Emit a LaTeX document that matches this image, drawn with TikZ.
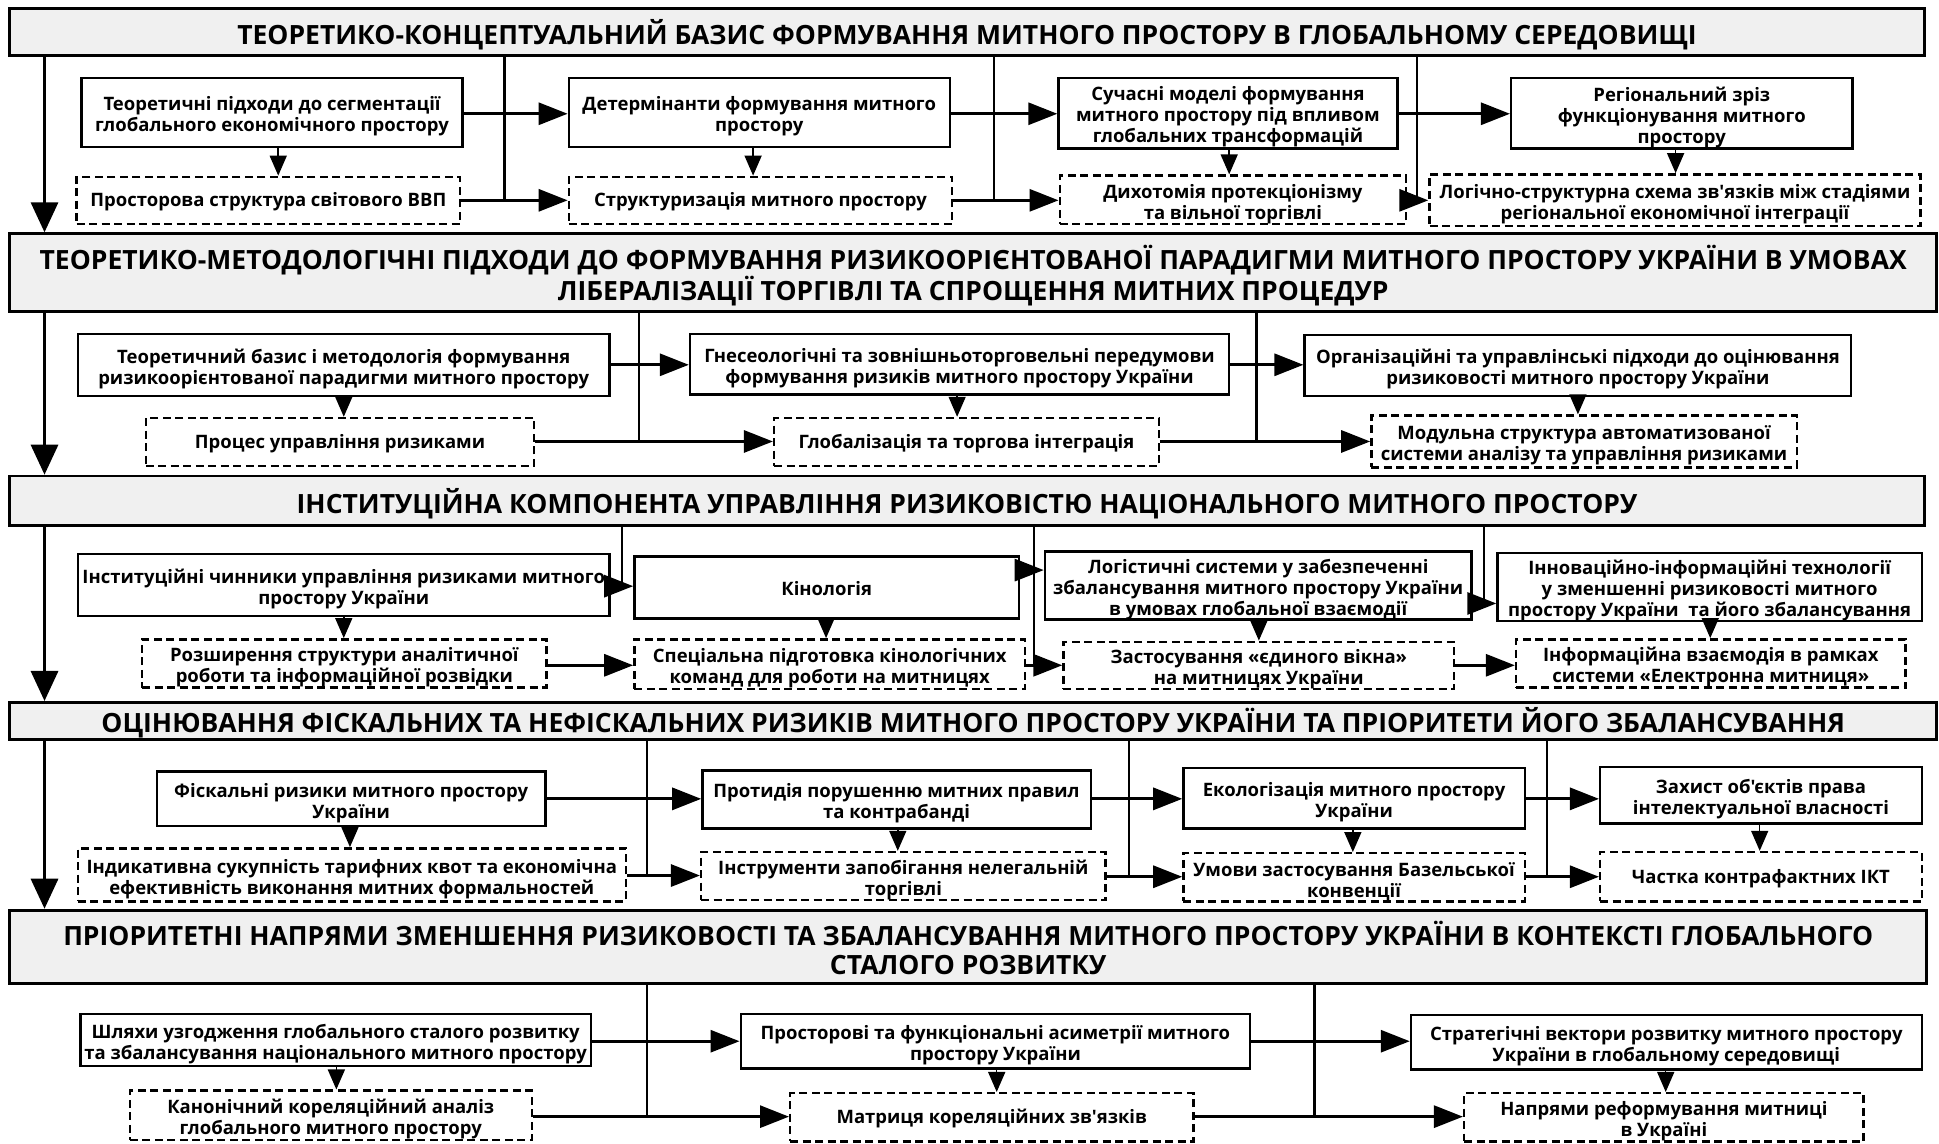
\documentclass[tikz,border=0pt]{standalone}
\usepackage{fontspec}
\newfontfamily\okf{Open Sans}
\usetikzlibrary{arrows.meta}
% \bx[text shift]{name}{x1}{y1}{x2}{y2}{box style}{text style}{text}
\newcommand\bx[9][4]{%
  \node[#7, minimum width={(#5-#3)*1.2366pt}, minimum height={(#6-#4)*1.2366pt}] (#2) at ({(#3+#5)/2},{(#4+#6)/2}) {};
  \node[#8, yshift=-#1pt] (#2t) at (#2.center) {#9};}
\tikzset{
  ttl/.style={draw, line width=2.8pt, fill=gray!12, inner sep=0pt},
  sbox/.style={draw, line width=2.4pt, fill=white, inner sep=0pt},
  dbox/.style={sbox, dash pattern=on 8pt off 4.5pt},
  ttxt/.style={inner sep=0pt, align=center, font=\okf\fontsize{26.5}{28.5}\selectfont\bfseries},
  btxt/.style={inner sep=0pt, align=center, font=\okf\fontsize{18.5}{21}\selectfont\bfseries},
  harr/.style={line width=3pt, -{Triangle[length=29pt,width=22pt]}},
  darr/.style={line width=1.5pt, -{Triangle[length=20pt,width=17pt]}},
  larr/.style={line width=3.2pt, -{Triangle[length=30pt,width=27pt]}},
  vl/.style={line width=2.2pt},
}
\begin{document}
\begin{tikzpicture}[x=1.2366pt, y=-1.2366pt]
\useasboundingbox (0,0) rectangle (1568,925);
% titles
\bx[2.5]{T1}{8}{7}{1556}{45}{ttl}{ttxt}{ТЕОРЕТИКО-КОНЦЕПТУАЛЬНИЙ БАЗИС ФОРМУВАННЯ МИТНОГО ПРОСТОРУ В ГЛОБАЛЬНОМУ СЕРЕДОВИЩІ}
\bx[3]{T2}{8}{189}{1566}{252}{ttl}{ttxt}{ТЕОРЕТИКО-МЕТОДОЛОГІЧНІ ПІДХОДИ ДО ФОРМУВАННЯ РИЗИКООРІЄНТОВАНОЇ ПАРАДИГМИ МИТНОГО ПРОСТОРУ УКРАЇНИ В УМОВАХ\\ЛІБЕРАЛІЗАЦІЇ ТОРГІВЛІ ТА СПРОЩЕННЯ МИТНИХ ПРОЦЕДУР}
\bx[2.5]{T3}{8}{385}{1556}{425}{ttl}{ttxt}{ІНСТИТУЦІЙНА КОМПОНЕНТА УПРАВЛІННЯ РИЗИКОВІСТЮ НАЦІОНАЛЬНОГО МИТНОГО ПРОСТОРУ}
\bx[2]{T4}{8}{568}{1566}{598}{ttl}{ttxt}{ОЦІНЮВАННЯ ФІСКАЛЬНИХ ТА НЕФІСКАЛЬНИХ РИЗИКІВ МИТНОГО ПРОСТОРУ УКРАЇНИ ТА ПРІОРИТЕТИ ЙОГО ЗБАЛАНСУВАННЯ}
\bx[1.5]{T5}{8}{736}{1558}{795}{ttl}{ttxt}{ПРІОРИТЕТНІ НАПРЯМИ ЗМЕНШЕННЯ РИЗИКОВОСТІ ТА ЗБАЛАНСУВАННЯ МИТНОГО ПРОСТОРУ УКРАЇНИ В КОНТЕКСТІ ГЛОБАЛЬНОГО\\СТАЛОГО РОЗВИТКУ}
% band 1
\bx{A1}{66}{63}{374}{119}{sbox}{btxt}{Теоретичні підходи до сегментації\\глобального економічного простору}
\bx{A2}{460}{63}{768}{119}{sbox}{btxt}{Детермінанти формування митного\\простору}
\bx{A3}{856}{63}{1130}{120}{sbox}{btxt}{Сучасні моделі формування\\митного простору під впливом\\глобальних трансформацій}
\bx{A4}{1222}{63}{1498}{120}{sbox}{btxt}{Регіональний зріз\\функціонування митного\\простору}
\bx[1.5]{B1}{62}{143}{372}{181}{dbox}{btxt}{Просторова структура світового ВВП}
\bx[1.5]{B2}{460}{143}{770}{181}{dbox}{btxt}{Структуризація митного простору}
\bx{B3}{857}{142}{1137}{181}{dbox}{btxt}{Дихотомія протекціонізму\\та вільної торгівлі}
\bx{B4}{1156}{141}{1553}{183}{dbox}{btxt}{Логічно-структурна схема зв'язків між стадіями\\регіональної економічної інтеграції}
% band 2
\bx{C1}{63}{270}{493}{320}{sbox}{btxt}{Теоретичний базис і методологія формування\\ризикоорієнтованої парадигми митного простору}
\bx{C2}{558}{270}{994}{319}{sbox}{btxt}{Гнесеологічні та зовнішньоторговельні передумови\\формування ризиків митного простору України}
\bx{C3}{1055}{271}{1497}{320}{sbox}{btxt}{Організаційні та управлінські підходи до оцінювання\\ризиковості митного простору України}
\bx[1.5]{D1}{118}{338}{432}{377}{dbox}{btxt}{Процес управління ризиками}
\bx[1.5]{D2}{626}{338}{937}{377}{dbox}{btxt}{Глобалізація та торгова інтеграція}
\bx{D3}{1109}{336}{1453}{378}{dbox}{btxt}{Модульна структура автоматизованої\\системи аналізу та управління ризиками}
% band 3
\bx{E1}{63}{448}{493}{498}{sbox}{btxt}{Інституційні чинники управління ризиками митного\\простору України}
\bx[1.5]{E2}{513}{450}{824}{500}{sbox}{btxt}{Кінологія}
\bx{E3}{845}{446}{1190}{501}{sbox}{btxt}{Логістичні системи у забезпеченні\\збалансування митного простору України\\в умовах глобальної взаємодії}
\bx{E4}{1211}{447}{1554}{502}{sbox}{btxt}{Інноваційно-інформаційні технології\\у зменшенні ризиковості митного\\простору України\ \ та його збалансування}
\bx{F1}{115}{517}{442}{556}{dbox}{btxt}{Розширення структури аналітичної\\роботи та інформаційної розвідки}
\bx{F2}{513}{517}{829}{557}{dbox}{btxt}{Спеціальна підготовка кінологічних\\команд для роботи на митницях}
\bx{F3}{860}{519}{1176}{557}{dbox}{btxt}{Застосування «єдиного вікна»\\на митницях України}
\bx{F4}{1226}{517}{1541}{556}{dbox}{btxt}{Інформаційна взаємодія в рамках\\системи «Електронна митниця»}
% band 4
\bx{G1}{127}{624}{441}{668}{sbox}{btxt}{Фіскальні ризики митного простору\\України}
\bx{G2}{568}{623}{882}{670}{sbox}{btxt}{Протидія порушенню митних правил\\та контрабанді}
\bx{G3}{957}{621}{1233}{670}{sbox}{btxt}{Екологізація митного простору\\України}
\bx{G4}{1294}{620}{1554}{666}{sbox}{btxt}{Захист об'єктів права\\інтелектуальної власності}
\bx{H1}{63}{686}{506}{729}{dbox}{btxt}{Індикативна сукупність тарифних квот та економічна\\ефективність виконання митних формальностей}
\bx{H2}{567}{689}{894}{728}{dbox}{btxt}{Інструменти запобігання нелегальній\\торгівлі}
\bx{H3}{957}{690}{1233}{729}{dbox}{btxt}{Умови застосування Базельської\\конвенції}
\bx[1.5]{H4}{1294}{689}{1554}{729}{dbox}{btxt}{Частка контрафактних ІКТ}
% band 5
\bx{I1}{65}{820}{478}{862}{sbox}{btxt}{Шляхи узгодження глобального сталого розвитку\\та збалансування національного митного простору}
\bx{I2}{599}{820}{1011}{864}{sbox}{btxt}{Просторові та функціональні асиметрії митного\\простору України}
\bx{I3}{1141}{821}{1554}{865}{sbox}{btxt}{Стратегічні вектори розвитку митного простору\\України в глобальному середовищі}
\bx{J1}{105}{882}{430}{922}{dbox}{btxt}{Канонічний кореляційний аналіз\\глобального митного простору}
\bx[1.5]{J2}{639}{884}{965}{923}{dbox}{btxt}{Матриця кореляційних зв'язків}
\bx{J3}{1184}{884}{1507}{923}{dbox}{btxt}{Напрями реформування митниці\\в Україні}
% left arrows
\coordinate (lx) at (36,0);
\draw[larr] (T1.south -| lx) -- (T2.north -| lx);
\draw[larr] (T2.south -| lx) -- (T3.north -| lx);
\draw[larr] (T3.south -| lx) -- (T4.north -| lx);
\draw[larr] (T4.south -| lx) -- (T5.north -| lx);
% band 1 connectors
\coordinate (v11) at (408,162); \coordinate (v12) at (804,162); \coordinate (v13) at (1146,162);
\draw[vl] (T1.south -| v11) -- (v11);
\draw[vl] (T1.south -| v12) -- (v12);
\draw[vl] (T1.south -| v13) -- (v13);
\coordinate (ya) at (0,92); \coordinate (yb) at (0,162);
\draw[harr] (A1.east |- ya) -- (A2.west |- ya);
\draw[harr] (A2.east |- ya) -- (A3.west |- ya);
\draw[harr] (A3.east |- ya) -- (A4.west |- ya);
\draw[harr] (B1.east |- yb) -- (B2.west |- yb);
\draw[harr] (B2.east |- yb) -- (B3.west |- yb);
\draw[harr] (B3.east |- yb) -- (B4.west |- yb);
\coordinate (da1) at (225,0); \coordinate (da2) at (609,0); \coordinate (da3) at (994,0); \coordinate (da4) at (1355,0);
\draw[darr] (A1.south -| da1) -- (B1.north -| da1);
\draw[darr] (A2.south -| da2) -- (B2.north -| da2);
\draw[darr] (A3.south -| da3) -- (B3.north -| da3);
\draw[darr] (A4.south -| da4) -- (B4.north -| da4);
% band 2 connectors
\coordinate (v21) at (517,357); \coordinate (v22) at (1016,357);
\draw[vl] (T2.south -| v21) -- (v21);
\draw[vl] (T2.south -| v22) -- (v22);
\coordinate (yc) at (0,295); \coordinate (yd) at (0,357);
\draw[harr] (C1.east |- yc) -- (C2.west |- yc);
\draw[harr] (C2.east |- yc) -- (C3.west |- yc);
\draw[harr] (D1.east |- yd) -- (D2.west |- yd);
\draw[harr] (D2.east |- yd) -- (D3.west |- yd);
\coordinate (dc1) at (278,0); \coordinate (dc2) at (774,0); \coordinate (dc3) at (1276,0);
\draw[darr] (C1.south -| dc1) -- (D1.north -| dc1);
\draw[darr] (C2.south -| dc2) -- (D2.north -| dc2);
\draw[darr] (C3.south -| dc3) -- (D3.north -| dc3);
% band 3 connectors
\coordinate (v31) at (503,474); \coordinate (v32) at (836,538); \coordinate (v33) at (1200,488);
\draw[vl] (T3.south -| v31) -- (v31);
\draw[vl] (T3.south -| v32) -- (v32);
\draw[vl] (T3.south -| v33) -- (v33);
\coordinate (ye1) at (0,474); \coordinate (ye2) at (0,461); \coordinate (ye3) at (0,488); \coordinate (yf) at (0,538);
\draw[harr] (E1.east |- ye1) -- (E2.west |- ye1);
\draw[harr] (E2.east |- ye2) -- (E3.west |- ye2);
\draw[harr] (E3.east |- ye3) -- (E4.west |- ye3);
\draw[harr] (F1.east |- yf) -- (F2.west |- yf);
\draw[harr] (F2.east |- yf) -- (F3.west |- yf);
\draw[harr] (F3.east |- yf) -- (F4.west |- yf);
\coordinate (de1) at (278,0); \coordinate (de2) at (668,0); \coordinate (de3) at (1018,0); \coordinate (de4) at (1383,0);
\draw[darr] (E1.south -| de1) -- (F1.north -| de1);
\draw[darr] (E2.south -| de2) -- (F2.north -| de2);
\draw[darr] (E3.south -| de3) -- (F3.north -| de3);
\draw[darr] (E4.south -| de4) -- (F4.north -| de4);
% band 4 connectors
\coordinate (v41) at (523,708); \coordinate (v42) at (913,709); \coordinate (v43) at (1251,709);
\draw[vl] (T4.south -| v41) -- (v41);
\draw[vl] (T4.south -| v42) -- (v42);
\draw[vl] (T4.south -| v43) -- (v43);
\coordinate (yg) at (0,646); \coordinate (yh1) at (0,708); \coordinate (yh2) at (0,709);
\draw[harr] (G1.east |- yg) -- (G2.west |- yg);
\draw[harr] (G2.east |- yg) -- (G3.west |- yg);
\draw[harr] (G3.east |- yg) -- (G4.west |- yg);
\draw[harr] (H1.east |- yh1) -- (H2.west |- yh1);
\draw[harr] (H2.east |- yh2) -- (H3.west |- yh2);
\draw[harr] (H3.east |- yh2) -- (H4.west |- yh2);
\coordinate (dg1) at (283,0); \coordinate (dg2) at (726,0); \coordinate (dg3) at (1094,0); \coordinate (dg4) at (1423,0);
\draw[darr] (G1.south -| dg1) -- (H1.north -| dg1);
\draw[darr] (G2.south -| dg2) -- (H2.north -| dg2);
\draw[darr] (G3.south -| dg3) -- (H3.north -| dg3);
\draw[darr] (G4.south -| dg4) -- (H4.north -| dg4);
% band 5 connectors
\coordinate (v51) at (523,903); \coordinate (v52) at (1063,903);
\draw[vl] (T5.south -| v51) -- (v51);
\draw[vl] (T5.south -| v52) -- (v52);
\coordinate (yi) at (0,842); \coordinate (yj) at (0,903);
\draw[harr] (I1.east |- yi) -- (I2.west |- yi);
\draw[harr] (I2.east |- yi) -- (I3.west |- yi);
\draw[harr] (J1.east |- yj) -- (J2.west |- yj);
\draw[harr] (J2.east |- yj) -- (J3.west |- yj);
\coordinate (di1) at (272,0); \coordinate (di2) at (806,0); \coordinate (di3) at (1347,0);
\draw[darr] (I1.south -| di1) -- (J1.north -| di1);
\draw[darr] (I2.south -| di2) -- (J2.north -| di2);
\draw[darr] (I3.south -| di3) -- (J3.north -| di3);
\end{tikzpicture}
\end{document}
